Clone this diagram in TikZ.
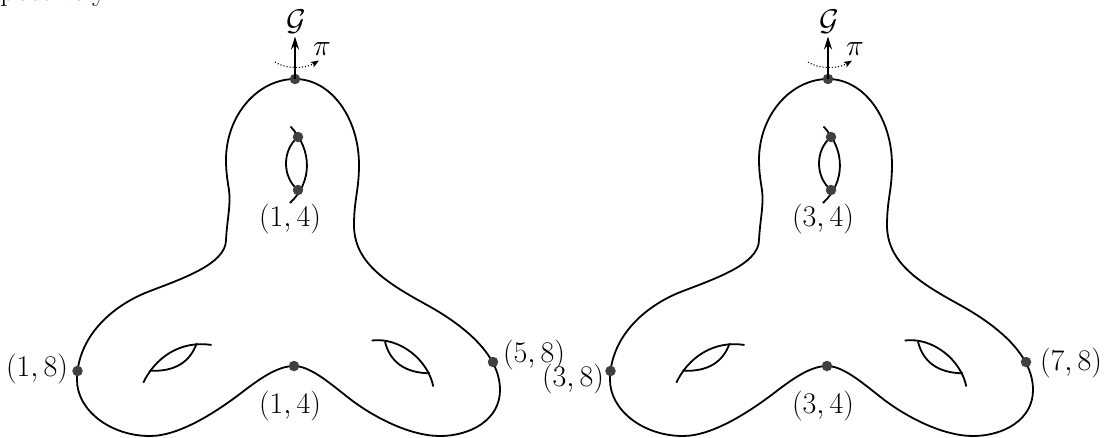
\RequirePackage{fix-cm}
\documentclass[tikz,border=0pt]{standalone}
\usetikzlibrary{arrows.meta}
\tikzset{
  lbl/.style={font=\fontsize{30}{36}\selectfont, inner sep=0pt},
  surf/.style={line width=1.8pt, line join=round},
  dotpt/.style={circle, fill=black!75, inner sep=0pt, minimum size=10.5pt},
  axisarrow/.style={line width=1.8pt, -{Stealth[length=13pt,width=8pt]}},
  rotarrow/.style={dotted, line width=1.1pt, -{Stealth[length=8pt,width=6pt,inset=1.5pt]}}
}
\newcommand{\genussurf}[3]{%
  % outline
  \draw[surf] (295,79)
    .. controls (331,79) and (359,118) .. (359,165)
    .. controls (359,190) and (354,200) .. (354,225)
    .. controls (354,262) and (385,282) .. (427,305)
    .. controls (465,326) and (500,355) .. (500,390)
    .. controls (500,420) and (470,436) .. (440,436)
    .. controls (410,436) and (372,417) .. (345,395)
    .. controls (329,382.6) and (310,366) .. (294,366)
    .. controls (278,366) and (261,378) .. (245,390)
    .. controls (218,411) and (180,436) .. (150,436)
    .. controls (110,436) and (77,410) .. (77,380)
    .. controls (77,342) and (105,310) .. (145,293)
    .. controls (178,280) and (226,265) .. (226,240)
    .. controls (227,220) and (231,205) .. (229,190)
    .. controls (227,178) and (226,170) .. (226,160)
    .. controls (226,115) and (258,79) .. cycle;
  % top handle
  \draw[surf] (290.5,126.5) .. controls (312.5,150) and (312.5,182) .. (290,203);
  \draw[surf] (298,137) .. controls (282,150) and (282,177) .. (298,190);
  % left handle
  \draw[surf] (143.3,382.7) .. controls (155,358) and (180,340) .. (211.5,345);
  \draw[surf] (149.3,370.7) .. controls (175,372) and (190,362) .. (196.7,343.3);
  % right handle
  \draw[surf] (371.7,340.5) .. controls (400,337) and (428,360) .. (433.3,386.5);
  \draw[surf] (385,341.7) .. controls (390,362) and (405,373) .. (430,373.3);
  % marked points
  \node[dotpt] (#1top) at (295,79) {};
  \node[dotpt] (#1hu) at (298,137) {};
  \node[dotpt] (#1hl) at (298,190) {};
  \node[dotpt] (#1dip) at (294,366) {};
  \node[dotpt] (#1left) at (77.5,371) {};
  \node[dotpt] (#1right) at (493,362) {};
  % axis and rotation
  \coordinate (#1tip) at (295,36.5);
  \draw[axisarrow] (#1top.center) -- (#1tip);
  \node[lbl] (#1G) at (296,22) {$\mathcal{G}$};
  \coordinate (#1rs) at (275,62);
  \coordinate (#1re) at (319,60.5);
  \draw[rotarrow] (#1rs) .. controls (285,69) and (305,69) .. (#1re);
  \node[lbl] (#1pi) at (322,49) {$\pi$};
  % labels
  \node[lbl] (#1lt) at (290,219) {$#2$};
  \node[lbl] (#1lb) at (290,406) {$#3$};
}
\begin{document}
\begin{tikzpicture}[x=1pt,y=-1pt]
  \useasboundingbox (0,0) rectangle (1110,437);
  \begin{scope}
    \clip (0,0) rectangle (1110,437);
    \node[lbl, anchor=base east] (frag) at (112,0) {respectively.};
  \end{scope}
  \begin{scope}
    \genussurf{a}{(1,4)}{(1,4)}
  \end{scope}
  \node[lbl] (alabl) at (37,369) {$(1,8)$};
  \node[lbl] (alabr) at (534,355) {$(5,8)$};
  \begin{scope}[shift={(533,0)}]
    \genussurf{b}{(3,4)}{(3,4)}
  \end{scope}
  \node[lbl] (blabl) at (573,379) {$(3,8)$};
  \node[lbl] (blabr) at (1071,363) {$(7,8)$};
\end{tikzpicture}
\end{document}
